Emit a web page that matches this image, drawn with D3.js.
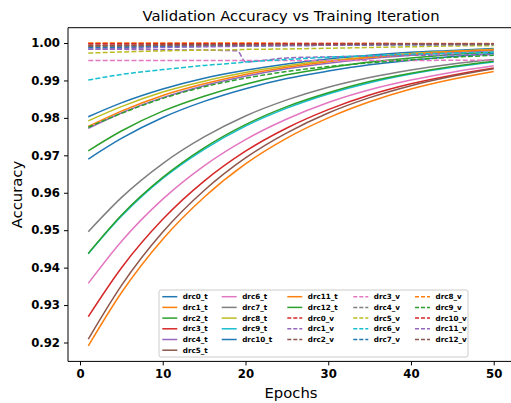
<!DOCTYPE html>
<html>
<head>
<meta charset="utf-8">
<script src="https://cdn.jsdelivr.net/npm/d3@7"></script>
<style>
    body { margin: 0; background: #fff; }
    svg { display: block; font-family: "DejaVu Sans", sans-serif; }
</style>
</head>
<body>
<div id="chart"></div>
<script>
var epochs = [1, 5, 10, 15, 20, 25, 30, 35, 40, 45, 50]
var valEpochs = [1, 5, 10, 15, 19, 20, 25, 30, 35, 40, 45, 50]

var trainNames = ['drc0_t', 'drc1_t', 'drc2_t', 'drc3_t', 'drc4_t', 'drc5_t', 'drc6_t',
                  'drc7_t', 'drc8_t', 'drc9_t', 'drc10_t', 'drc11_t', 'drc12_t']
var trainAcc = [
    [0.9803, 0.9840, 0.9877, 0.9906, 0.9927, 0.9944, 0.9957, 0.9967, 0.9975, 0.9980, 0.9985],
    [0.9191, 0.9333, 0.9476, 0.9588, 0.9677, 0.9746, 0.9800, 0.9843, 0.9877, 0.9903, 0.9924],
    [0.9712, 0.9765, 0.9818, 0.9858, 0.9890, 0.9915, 0.9934, 0.9949, 0.9960, 0.9969, 0.9976],
    [0.9269, 0.9399, 0.9529, 0.9631, 0.9711, 0.9773, 0.9822, 0.9861, 0.9891, 0.9914, 0.9933],
    [0.9772, 0.9813, 0.9854, 0.9886, 0.9911, 0.9931, 0.9946, 0.9958, 0.9967, 0.9974, 0.9980],
    [0.9209, 0.9352, 0.9495, 0.9606, 0.9693, 0.9760, 0.9813, 0.9854, 0.9886, 0.9911, 0.9931],
    [0.9358, 0.9470, 0.9583, 0.9672, 0.9742, 0.9797, 0.9841, 0.9875, 0.9901, 0.9922, 0.9939],
    [0.9496, 0.9587, 0.9678, 0.9749, 0.9805, 0.9848, 0.9882, 0.9908, 0.9928, 0.9944, 0.9956],
    [0.9792, 0.9830, 0.9869, 0.9898, 0.9921, 0.9939, 0.9953, 0.9963, 0.9972, 0.9978, 0.9983],
    [0.9437, 0.9537, 0.9638, 0.9716, 0.9778, 0.9826, 0.9864, 0.9894, 0.9917, 0.9935, 0.9949],
    [0.9690, 0.9745, 0.9801, 0.9844, 0.9878, 0.9905, 0.9925, 0.9942, 0.9954, 0.9964, 0.9972],
    [0.9777, 0.9818, 0.9860, 0.9891, 0.9916, 0.9935, 0.9950, 0.9961, 0.9970, 0.9977, 0.9982],
    [0.9438, 0.9540, 0.9641, 0.9720, 0.9782, 0.9830, 0.9867, 0.9897, 0.9919, 0.9937, 0.9951]
]

var valNames = ['drc0_v', 'drc1_v', 'drc2_v', 'drc3_v', 'drc4_v', 'drc5_v', 'drc6_v',
                'drc7_v', 'drc8_v', 'drc9_v', 'drc10_v', 'drc11_v', 'drc12_v']
var valAcc = [
    [0.9999, 0.9999, 0.9999, 0.9999, 0.9999, 0.9999, 0.9999, 0.9999, 0.9999, 0.9998, 0.9998, 0.9998],
    [0.9983, 0.9983, 0.9982, 0.9981, 0.9979, 0.9950, 0.9960, 0.9963, 0.9965, 0.9967, 0.9968, 0.9969],
    [0.9994, 0.9994, 0.9995, 0.9995, 0.9995, 0.9995, 0.9996, 0.9996, 0.9996, 0.9997, 0.9997, 0.9997],
    [0.9953, 0.9953, 0.9953, 0.9953, 0.9953, 0.9953, 0.9953, 0.9953, 0.9953, 0.9953, 0.9954, 0.9954],
    [0.9990, 0.9991, 0.9992, 0.9993, 0.9993, 0.9994, 0.9994, 0.9995, 0.9995, 0.9996, 0.9996, 0.9996],
    [0.9973, 0.9976, 0.9979, 0.9981, 0.9982, 0.9983, 0.9984, 0.9986, 0.9988, 0.9990, 0.9992, 0.9993],
    [0.9901, 0.9916, 0.9929, 0.9940, 0.9947, 0.9949, 0.9956, 0.9962, 0.9966, 0.9970, 0.9973, 0.9975],
    [0.9987, 0.9988, 0.9990, 0.9991, 0.9992, 0.9992, 0.9993, 0.9994, 0.9995, 0.9995, 0.9996, 0.9996],
    [1.0000, 1.0000, 1.0000, 1.0000, 1.0000, 1.0000, 0.9999, 0.9999, 0.9999, 0.9999, 0.9999, 0.9999],
    [0.9775, 0.9812, 0.9852, 0.9883, 0.9902, 0.9906, 0.9924, 0.9937, 0.9947, 0.9955, 0.9962, 0.9967],
    [0.9998, 0.9998, 0.9998, 0.9998, 0.9998, 0.9998, 0.9998, 0.9998, 0.9998, 0.9998, 0.9998, 0.9998],
    [0.9983, 0.9985, 0.9988, 0.9990, 0.9991, 0.9992, 0.9993, 0.9994, 0.9995, 0.9996, 0.9996, 0.9997],
    [0.9992, 0.9993, 0.9994, 0.9995, 0.9995, 0.9995, 0.9996, 0.9996, 0.9997, 0.9997, 0.9997, 0.9997]
]

var xTicks = [0, 10, 20, 30, 40, 50]
var yTicks = [0.92, 0.93, 0.94, 0.95, 0.96, 0.97, 0.98, 0.99, 1.00]

var palette = ['#1f77b4', '#ff7f0e', '#2ca02c', '#d62728', '#9467bd',
               '#8c564b', '#e377c2', '#7f7f7f', '#bcbd22', '#17becf']

var width = 511, height = 403
var plot = { left: 68, right: 514, top: 27.7, bottom: 361.4 }

// build one flat list of series, training first then validation (matplotlib draw order)
var series = []
trainNames.forEach(function(name, i) {
    series.push({ name: name, dashed: false, color: palette[series.length % 10],
        points: epochs.map(function(e, j) { return { x: e, y: trainAcc[i][j] } }) })
})
valNames.forEach(function(name, i) {
    series.push({ name: name, dashed: true, color: palette[series.length % 10],
        points: valEpochs.map(function(e, j) { return { x: e, y: valAcc[i][j] } }) })
})

var svg = d3.select('#chart').append('svg')
    .attr('width', width)
    .attr('height', height)

svg.append('rect').attr('width', width).attr('height', height).attr('fill', '#fff')

var x = d3.scaleLinear().domain([-1.45, 52.45]).range([plot.left, plot.right])
var y = d3.scaleLinear().domain([0.914952, 1.004087]).range([plot.bottom, plot.top])

var line = d3.line()
    .x(function(d) { return x(d.x) })
    .y(function(d) { return y(d.y) })
    .curve(d3.curveMonotoneX)

var g = svg.append('g')
g.selectAll('path.series')
    .data(series)
    .enter().append('path')
    .attr('class', 'series')
    .attr('fill', 'none')
    .attr('stroke', function(d) { return d.color })
    .attr('stroke-width', 1.5)
    .attr('stroke-dasharray', function(d) { return d.dashed ? '5,2.2' : null })
    .attr('d', function(d) { return line(d.points) })

// axes
var xAxis = svg.append('g')
    .attr('transform', 'translate(0,' + plot.bottom + ')')
    .call(d3.axisBottom(x).tickValues(xTicks).tickSize(4).tickPadding(4).tickFormat(d3.format('d')))
var yAxis = svg.append('g')
    .attr('transform', 'translate(' + plot.left + ',0)')
    .call(d3.axisLeft(y).tickValues(yTicks).tickSize(4).tickPadding(4).tickFormat(d3.format('.2f')))

;[xAxis, yAxis].forEach(function(ax) {
    ax.select('.domain').remove()
    ax.selectAll('line').attr('stroke', '#000').attr('stroke-width', 1)
    ax.selectAll('text')
        .attr('fill', '#000')
        .style('font-family', '"DejaVu Sans", sans-serif')
        .style('font-size', '11.7px')
        .style('font-weight', 'bold')
})

// spines: left, bottom, top (right spine falls outside the picture)
svg.append('line').attr('x1', plot.left).attr('x2', plot.left)
    .attr('y1', plot.top).attr('y2', plot.bottom).attr('stroke', '#000').attr('stroke-width', 1)
svg.append('line').attr('x1', plot.left).attr('x2', plot.right)
    .attr('y1', plot.bottom).attr('y2', plot.bottom).attr('stroke', '#000').attr('stroke-width', 1)
svg.append('line').attr('x1', plot.left).attr('x2', plot.right)
    .attr('y1', plot.top).attr('y2', plot.top).attr('stroke', '#000').attr('stroke-width', 1)

var midX = (plot.left + plot.right) / 2
svg.append('text')
    .attr('x', midX).attr('y', 20.5)
    .attr('text-anchor', 'middle')
    .style('font-size', '14.8px')
    .attr('fill', '#000')
    .text('Validation Accuracy vs Training Iteration')

svg.append('text')
    .attr('x', midX).attr('y', 398)
    .attr('text-anchor', 'middle')
    .style('font-size', '14.8px')
    .attr('fill', '#000')
    .text('Epochs')

svg.append('text')
    .attr('transform', 'translate(22,' + ((plot.top + plot.bottom) / 2) + ') rotate(-90)')
    .attr('text-anchor', 'middle')
    .style('font-size', '14.8px')
    .attr('fill', '#000')
    .text('Accuracy')

// legend, 5 columns filled top-down like matplotlib
var legendBox = { x: 159, y: 290, w: 309, h: 67 }
var colX = [162.3, 221.7, 287.3, 353.3, 415]
var colSizes = [6, 5, 5, 5, 5]
var rowY0 = 296.7, rowStep = 10.7

var legend = svg.append('g')
legend.append('rect')
    .attr('x', legendBox.x).attr('y', legendBox.y)
    .attr('width', legendBox.w).attr('height', legendBox.h)
    .attr('rx', 2)
    .attr('fill', '#fff').attr('fill-opacity', 0.8)
    .attr('stroke', '#ccc').attr('stroke-width', 1)

var idx = 0
colSizes.forEach(function(n, c) {
    for (var r=0; r<n; ++r) {
        var s = series[idx++]
        var cy = rowY0 + r * rowStep
        legend.append('line')
            .attr('x1', colX[c]).attr('x2', colX[c] + 15)
            .attr('y1', cy).attr('y2', cy)
            .attr('stroke', s.color)
            .attr('stroke-width', 1.5)
            .attr('stroke-dasharray', s.dashed ? '4,2' : null)
        legend.append('text')
            .attr('x', colX[c] + 20.5).attr('y', cy + 2.6)
            .style('font-size', '7.2px')
            .style('font-weight', 'bold')
            .attr('fill', '#000')
            .text(s.name)
    }
})
</script>
</body>
</html>
